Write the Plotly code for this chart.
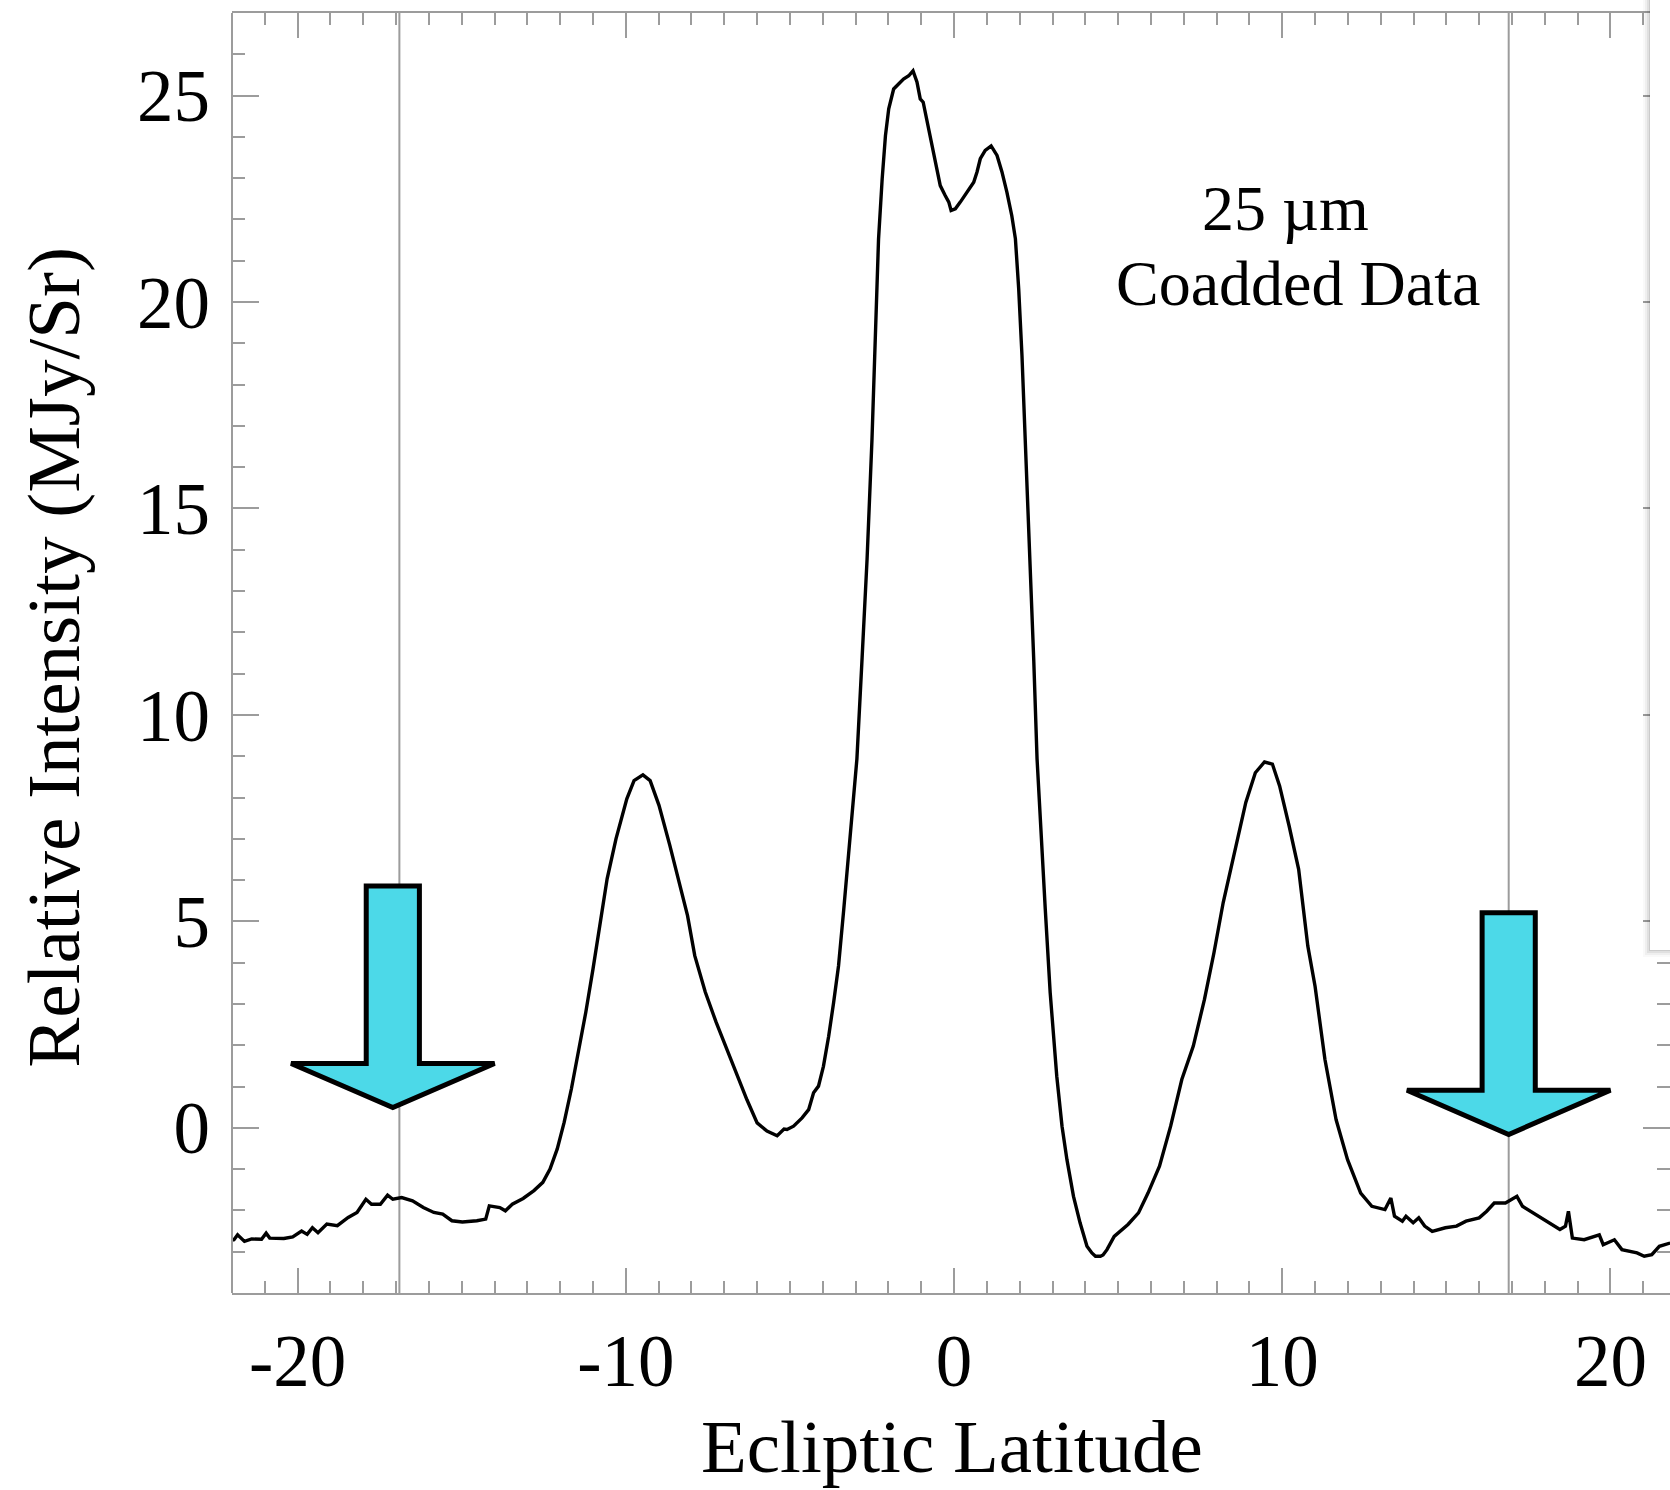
import plotly.graph_objects as go

# ---------------- data ----------------
latitude = [
    -22.0, -21.94, -21.83, -21.62, -21.40, -21.10, -20.96, -20.85, -20.42, -20.15,
    -19.88, -19.71, -19.55, -19.38, -19.11, -18.79, -18.46, -18.19, -17.92, -17.75,
    -17.48, -17.26, -17.10, -16.83, -16.50, -16.17, -15.85, -15.58, -15.30, -14.98,
    -14.54, -14.27, -14.16, -13.84, -13.67, -13.46, -13.13, -12.80, -12.53, -12.31,
    -12.09, -11.88, -11.66, -11.44, -11.22, -11.00, -10.79, -10.57, -10.30, -9.97,
    -9.75, -9.48, -9.26, -8.99, -8.66, -8.34, -8.12, -7.90, -7.58, -7.25,
    -6.93, -6.60, -6.31, -6.00, -5.70, -5.39, -5.18, -5.09, -4.89, -4.63,
    -4.43, -4.28, -4.13, -3.98, -3.82, -3.67, -3.52, -3.36, -3.21, -3.06,
    -2.96, -2.80, -2.65, -2.50, -2.40, -2.30, -2.19, -2.09, -1.99, -1.84,
    -1.69, -1.54, -1.38, -1.25, -1.13, -1.03, -0.94, -0.82, -0.67, -0.52,
    -0.42, -0.27, -0.16, -0.09, 0.04, 0.19, 0.40, 0.60, 0.70, 0.80,
    0.95, 1.13, 1.31, 1.46, 1.61, 1.76, 1.87, 1.97, 2.07, 2.17,
    2.27, 2.32, 2.43, 2.53, 2.63, 2.78, 2.93, 3.13, 3.29, 3.44,
    3.64, 3.84, 4.05, 4.20, 4.31, 4.46, 4.54, 4.66, 4.88, 5.30,
    5.62, 5.91, 6.26, 6.60, 6.94, 7.29, 7.63, 7.92, 8.20, 8.55,
    8.89, 9.18, 9.46, 9.70, 9.92, 10.21, 10.50, 10.78, 11.00, 11.30,
    11.64, 11.99, 12.39, 12.73, 13.13, 13.31, 13.42, 13.66, 13.77, 13.99,
    14.16, 14.34, 14.57, 14.97, 15.31, 15.60, 16.00, 16.23, 16.46, 16.80,
    17.15, 17.32, 17.66, 18.06, 18.46, 18.63, 18.72, 18.84, 19.20, 19.66,
    19.78, 20.12, 20.35, 20.81, 21.03, 21.26, 21.49, 21.82,
]
intensity = [
    -2.72, -2.71, -2.59, -2.75, -2.69, -2.70, -2.55, -2.67, -2.68, -2.64,
    -2.50, -2.58, -2.42, -2.54, -2.33, -2.37, -2.17, -2.05, -1.73, -1.85,
    -1.85, -1.63, -1.73, -1.69, -1.77, -1.93, -2.05, -2.09, -2.25, -2.28,
    -2.25, -2.21, -1.89, -1.93, -2.01, -1.85, -1.71, -1.52, -1.32, -1.00,
    -0.51, 0.13, 0.94, 1.83, 2.80, 3.85, 4.98, 6.03, 7.00, 7.97,
    8.41, 8.55, 8.41, 7.81, 6.84, 5.79, 5.14, 4.17, 3.29, 2.56,
    1.91, 1.27, 0.68, 0.12, -0.08, -0.19, -0.03, -0.04, 0.04, 0.24,
    0.44, 0.85, 1.01, 1.49, 2.22, 3.03, 3.92, 5.29, 6.66, 8.12,
    8.93, 11.40, 13.77, 16.68, 19.10, 21.53, 22.98, 24.03, 24.68, 25.16,
    25.28, 25.40, 25.48, 25.60, 25.33, 24.92, 24.84, 24.36, 23.79, 23.23,
    22.82, 22.58, 22.42, 22.22, 22.26, 22.42, 22.66, 22.90, 23.15, 23.47,
    23.67, 23.78, 23.55, 23.15, 22.66, 22.09, 21.53, 20.32, 18.70, 16.68,
    14.66, 13.77, 11.30, 8.93, 7.31, 5.29, 3.27, 1.25, 0.04, -0.77,
    -1.66, -2.30, -2.87, -3.03, -3.11, -3.11, -3.08, -2.95, -2.63, -2.34,
    -2.06, -1.58, -0.93, 0.04, 1.17, 1.98, 3.11, 4.24, 5.45, 6.66,
    7.88, 8.60, 8.86, 8.81, 8.28, 7.31, 6.26, 4.40, 3.43, 1.66,
    0.20, -0.77, -1.58, -1.90, -1.98, -1.70, -2.14, -2.26, -2.14, -2.30,
    -2.18, -2.38, -2.51, -2.42, -2.38, -2.26, -2.18, -2.02, -1.82, -1.82,
    -1.66, -1.90, -2.06, -2.26, -2.46, -2.38, -2.02, -2.67, -2.71, -2.59,
    -2.83, -2.71, -2.95, -3.03, -3.11, -3.07, -2.87, -2.79,
]

x_tickvals = [-20, -10, 0, 10, 20]
x_ticktext = ["-20", "-10", "0", "10", "20"]
y_tickvals = [0, 5, 10, 15, 20, 25]
y_ticktext = ["0", "5", "10", "15", "20", "25"]

marker_lines = [-16.9, 16.9]          # thin grey vertical guide lines
arrow_centers = [-17.1, 16.9]         # centre of each cyan arrow
arrow_tops = [5.86, 5.21]             # top edge of each arrow shaft

x_title = "Ecliptic Latitude"
y_title = "Relative Intensity (MJy/Sr)"
label_lines = ["25 µm", "Coadded Data"]

# ---------------- layout geometry ----------------
W, H = 1670, 1490
L, R, T, B = 232, 0, 13, 197
PW, PH = W - L - R, H - T - B
X_RANGE = [-22.0, -22.0 + PW / 32.82]
Y_RANGE = [-4.0, 27.0]
FONT = "Liberation Serif, Times New Roman, serif"
AXIS_GREY = "#9c9c9c"


def px_x(px):
    return (px - L) / PW


def px_y(py):
    return (H - B - py) / PH


fig = go.Figure()
fig.add_trace(go.Scatter(
    x=latitude, y=intensity, mode="lines",
    line=dict(color="black", width=3.4), hoverinfo="skip", showlegend=False,
))

shapes = []
# left axis line (the right one lies just outside the picture in the reference)
shapes.append(dict(type="line", xref="paper", yref="paper", x0=0, x1=0, y0=0, y1=1,
                   line=dict(color=AXIS_GREY, width=2), layer="above"))
for xv in marker_lines:
    shapes.append(dict(type="line", xref="x", yref="paper", x0=xv, x1=xv, y0=0, y1=1,
                       line=dict(color=AXIS_GREY, width=2), layer="below"))

SHAFT_HW, HEAD_HW, SHAFT_LEN, HEAD_LEN = 0.81, 3.1, 4.3, 1.07
for cx, top in zip(arrow_centers, arrow_tops):
    ht = top - SHAFT_LEN
    tip = ht - HEAD_LEN
    pts = [(cx - SHAFT_HW, top), (cx + SHAFT_HW, top), (cx + SHAFT_HW, ht),
           (cx + HEAD_HW, ht), (cx, tip), (cx - HEAD_HW, ht), (cx - SHAFT_HW, ht)]
    path = "M " + " L ".join(f"{a:.3f},{b:.3f}" for a, b in pts) + " Z"
    shapes.append(dict(type="path", xref="x", yref="y", path=path,
                       fillcolor="#4cd9e8", line=dict(color="black", width=5), layer="above"))

# overlapping panel at the top-right edge (white card with soft shadow)
for off, alpha in [(7, 0.025), (5, 0.04), (3, 0.06), (1, 0.09)]:
    shapes.append(dict(type="rect", xref="paper", yref="paper",
                       x0=px_x(1650 - off), x1=px_x(1700), y0=px_y(950 + off), y1=px_y(-10),
                       fillcolor=f"rgba(0,0,0,{alpha})", line=dict(width=0), layer="above"))
shapes.append(dict(type="rect", xref="paper", yref="paper",
                   x0=px_x(1650), x1=px_x(1700), y0=px_y(950), y1=px_y(-10),
                   fillcolor="white", line=dict(width=0), layer="above"))

annotations = [
    dict(text=label_lines[0], xref="paper", yref="paper", x=px_x(1285), y=px_y(230 - 0.3375 * 64),
         xanchor="center", yanchor="middle", showarrow=False,
         font=dict(family=FONT, size=64, color="black")),
    dict(text=label_lines[1], xref="paper", yref="paper", x=px_x(1298), y=px_y(305 - 0.3375 * 64),
         xanchor="center", yanchor="middle", showarrow=False,
         font=dict(family=FONT, size=64, color="black")),
    dict(text=x_title, xref="paper", yref="paper", x=px_x(952), y=px_y(1472 - 0.3375 * 75),
         xanchor="center", yanchor="middle", showarrow=False,
         font=dict(family=FONT, size=75, color="black")),
    dict(text=y_title, xref="paper", yref="paper", x=px_x(78 - 0.3375 * 75), y=px_y(657),
         xanchor="center", yanchor="middle", showarrow=False, textangle=-90,
         font=dict(family=FONT, size=75, color="black")),
]

fig.update_layout(
    width=W, height=H,
    margin=dict(l=L, r=R, t=T, b=B, pad=0),
    paper_bgcolor="white", plot_bgcolor="white",
    shapes=shapes, annotations=annotations,
    showlegend=False,
)
fig.update_xaxes(
    range=X_RANGE, showgrid=False, zeroline=False,
    showline=True, linecolor=AXIS_GREY, linewidth=2, mirror="ticks",
    ticks="inside", ticklen=25, tickwidth=2, tickcolor=AXIS_GREY,
    tickvals=x_tickvals, ticktext=x_ticktext,
    minor=dict(ticks="inside", dtick=1, tick0=0, ticklen=12, tickwidth=2, tickcolor=AXIS_GREY),
    tickfont=dict(family=FONT, size=73, color="black"),
    ticklabelstandoff=3,
)
fig.update_yaxes(
    range=Y_RANGE, showgrid=False, zeroline=False,
    showline=False, mirror="ticks",
    ticks="inside", ticklen=27, tickwidth=2, tickcolor=AXIS_GREY,
    tickvals=y_tickvals, ticktext=y_ticktext,
    minor=dict(ticks="inside", dtick=1, tick0=0, ticklen=13, tickwidth=2, tickcolor=AXIS_GREY),
    tickfont=dict(family=FONT, size=73, color="black"),
    ticklabelstandoff=21,
)

fig.write_html("out.html", config={"displayModeBar": False})
